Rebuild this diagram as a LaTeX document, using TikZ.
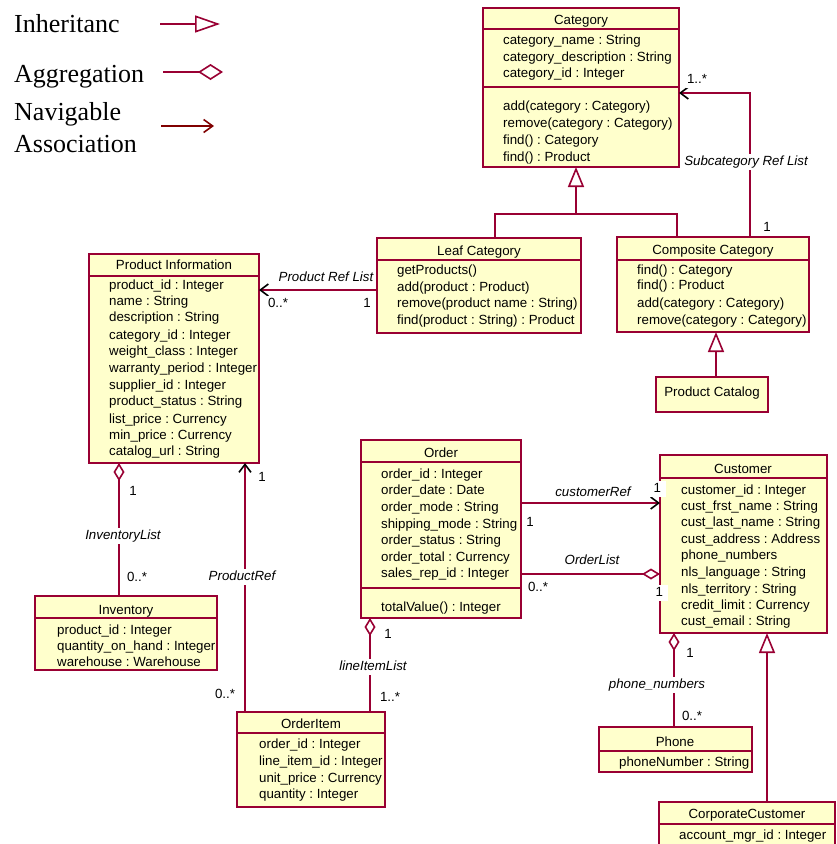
\documentclass[tikz,border=0pt]{standalone}
\usepackage{fontspec}
\setmainfont{Liberation Sans}
\newfontfamily\lgdfont{Liberation Serif}
\usetikzlibrary{arrows.meta}
\frenchspacing
\definecolor{umlred}{RGB}{153,0,51}
\definecolor{umlfill}{RGB}{255,255,204}
\definecolor{navred}{RGB}{128,0,0}
\newcounter{tln}
\newcommand\atl[3]{\stepcounter{tln}\edef\tlname{tl\arabic{tln}}\node[att] (\tlname) at (#1,#2) {#3};}
\tikzset{
  cls/.style={draw=umlred, fill=umlfill, line width=2pt, inner sep=0pt, outer sep=0pt, anchor=north west},
  sepline/.style={draw=umlred, line width=2pt},
  ttl/.style={font=\fontsize{13.3}{15}\selectfont, inner sep=0pt, text height=9.6pt, text depth=2.8pt, yshift=-0.8pt},
  att/.style={ttl, anchor=west},
  lbl/.style={font=\fontsize{13.3}{15}\selectfont, inner sep=1.5pt, fill=white, text height=9.6pt, text depth=2.8pt, yshift=-0.8pt},
  rl/.style={lbl, font=\fontsize{13.3}{15}\selectfont\itshape},
  conn/.style={draw=umlred, line width=1.6pt},
  navtip/.style={-{Straight Barb[length=8pt,width=12pt,color=black]}},
  aggtip/.style={{Diamond[open,length=18pt,width=11pt,color=umlred]}-},
  aggend/.style={-{Diamond[open,length=18pt,width=11pt,color=umlred]}},
  gentip/.style={-{Triangle[open,length=20pt,width=16pt,color=umlred]}},
  lgd/.style={font=\lgdfont\fontsize{26}{30}\selectfont, inner sep=0pt, anchor=base west}
}
\begin{document}
\begin{tikzpicture}[x=1pt,y=-1pt]
\useasboundingbox[fill=white] (0,0) rectangle (836,844);

% ---------- legend ----------
\node[lgd] (lgA) at (14,32) {Inheritanc};
\node[lgd] (lgB) at (14,82) {Aggregation};
\node[lgd] (lgC) at (14,120) {Navigable};
\node[lgd] (lgD) at (14,152) {Association};
\coordinate (la1) at (160,24);  \coordinate (la2) at (220,24);
\coordinate (lb1) at (163,72);  \coordinate (lb2) at (223,72);
\coordinate (lc1) at (161,126); \coordinate (lc2) at (214,126);
\draw[conn, -{Triangle[open,length=25pt,width=17pt,color=umlred]}] (la1) -- (la2);
\draw[conn, -{Diamond[open,length=25pt,width=16pt,color=umlred]}] (lb1) -- (lb2);
\draw[conn, draw=navred, -{Straight Barb[length=9pt,width=13pt,color=navred]}] (lc1) -- (lc2);

% ---------- class boxes ----------
\node[cls, minimum width=196pt, minimum height=159pt] (cat) at (483,8) {};
\node[cls, minimum width=204pt, minimum height=95pt] (leaf) at (377,238) {};
\node[cls, minimum width=192pt, minimum height=95pt] (comp) at (617,237) {};
\node[cls, minimum width=112pt, minimum height=35pt] (pcat) at (656,377) {};
\node[cls, minimum width=170pt, minimum height=209pt] (pinfo) at (89,254) {};
\node[cls, minimum width=160pt, minimum height=178pt] (order) at (361,440) {};
\node[cls, minimum width=167pt, minimum height=178pt] (cust) at (660,455) {};
\node[cls, minimum width=182pt, minimum height=74pt] (inv) at (35,596) {};
\node[cls, minimum width=148pt, minimum height=95pt] (oitem) at (237,712) {};
\node[cls, minimum width=153pt, minimum height=45pt] (phone) at (599,727) {};
\node[cls, minimum width=176pt, minimum height=70pt] (corp) at (659,802) {};

% separators
\draw[sepline] (cat.west |- 0,29) -- (cat.east |- 0,29);
\draw[sepline] (cat.west |- 0,87) -- (cat.east |- 0,87);
\draw[sepline] (leaf.west |- 0,260) -- (leaf.east |- 0,260);
\draw[sepline] (comp.west |- 0,260) -- (comp.east |- 0,260);
\draw[sepline] (pinfo.west |- 0,276) -- (pinfo.east |- 0,276);
\draw[sepline] (order.west |- 0,462) -- (order.east |- 0,462);
\draw[sepline] (order.west |- 0,588) -- (order.east |- 0,588);
\draw[sepline] (cust.west |- 0,478) -- (cust.east |- 0,478);
\draw[sepline] (inv.west |- 0,618) -- (inv.east |- 0,618);
\draw[sepline] (oitem.west |- 0,733) -- (oitem.east |- 0,733);
\draw[sepline] (phone.west |- 0,751) -- (phone.east |- 0,751);
\draw[sepline] (corp.west |- 0,824) -- (corp.east |- 0,824);

% ---------- texts ----------
\node[ttl] (catT) at (581,20) {Category};
\atl{503}{40}{category\_name : String}
\atl{503}{57}{category\_description : String}
\atl{503}{73}{category\_id : Integer}
\atl{503}{106}{add(category : Category)}
\atl{503}{123}{remove(category : Category)}
\atl{503}{140}{find() : Category}
\atl{503}{157}{find() : Product}

\node[ttl] (leafT) at (479,251) {Leaf Category};
\atl{397}{270}{getProducts()}
\atl{397}{287}{add(product : Product)}
\atl{397}{303}{remove(product name : String)}
\atl{397}{320}{find(product : String) : Product}

\node[ttl] (compT) at (713,250) {Composite Category};
\atl{637}{270}{find() : Category}
\atl{637}{285}{find() : Product}
\atl{637}{303}{add(category : Category)}
\atl{637}{320}{remove(category : Category)}

\node[ttl] (pcatT) at (712,392) {Product Catalog};

\node[ttl] (pinfoT) at (174,265) {Product Information};
\atl{109}{285}{product\_id : Integer}
\atl{109}{301}{name : String}
\atl{109}{317}{description : String}
\atl{109}{335}{category\_id : Integer}
\atl{109}{351}{weight\_class : Integer}
\atl{109}{368}{warranty\_period : Integer}
\atl{109}{385}{supplier\_id : Integer}
\atl{109}{401}{product\_status : String}
\atl{109}{419}{list\_price : Currency}
\atl{109}{435}{min\_price : Currency}
\atl{109}{451}{catalog\_url : String}

\node[ttl] (orderT) at (441,453) {Order};
\atl{381}{474}{order\_id : Integer}
\atl{381}{490}{order\_date : Date}
\atl{381}{507}{order\_mode : String}
\atl{381}{524}{shipping\_mode : String}
\atl{381}{540}{order\_status : String}
\atl{381}{557}{order\_total : Currency}
\atl{381}{573}{sales\_rep\_id : Integer}
\atl{381}{607}{totalValue() : Integer}

\node[ttl] (custT) at (743,469) {Customer};
\atl{681}{490}{customer\_id : Integer}
\atl{681}{506}{cust\_frst\_name : String}
\atl{681}{522}{cust\_last\_name : String}
\atl{681}{539}{cust\_address : Address}
\atl{681}{555}{phone\_numbers}
\atl{681}{572}{nls\_language : String}
\atl{681}{589}{nls\_territory : String}
\atl{681}{605}{credit\_limit : Currency}
\atl{681}{621}{cust\_email : String}

\node[ttl] (invT) at (126,610) {Inventory};
\atl{57}{630}{product\_id : Integer}
\atl{57}{646}{quantity\_on\_hand : Integer}
\atl{57}{662}{warehouse : Warehouse}

\node[ttl] (oitemT) at (311,724) {OrderItem};
\atl{259}{744}{order\_id : Integer}
\atl{259}{761}{line\_item\_id : Integer}
\atl{259}{778}{unit\_price : Currency}
\atl{259}{794}{quantity : Integer}

\node[ttl] (phoneT) at (675,742) {Phone};
\atl{619}{762}{phoneNumber : String}

\node[ttl] (corpT) at (747,814) {CorporateCustomer};
\atl{679}{835}{account\_mgr\_id : Integer}

% ---------- connectors ----------
\coordinate (gj) at (576,214);
\draw[conn] (leaf.north -| 495,0) |- (gj);
\draw[conn] (comp.north -| 677,0) |- (gj);
\draw[conn, gentip] (gj) -- (cat.south -| gj);

\draw[conn, aggtip, navtip] (comp.north -| 750,0) |- (cat.east |- 0,93);
\draw[conn, navtip] (leaf.west |- 0,290) -- (pinfo.east |- 0,290);
\draw[conn, gentip] (pcat.north -| 716,0) -- (comp.south -| 716,0);
\draw[conn, navtip] (order.east |- 0,503) -- (cust.west |- 0,503);
\draw[conn, aggend] (order.east |- 0,574) -- (cust.west |- 0,574);
\draw[conn, aggtip] (order.south -| 370,0) -- (oitem.north -| 370,0);
\draw[conn, aggtip] (pinfo.south -| 119,0) -- (inv.north -| 119,0);
\draw[conn, navtip] (oitem.north -| 245,0) -- (pinfo.south -| 245,0);
\draw[conn, aggtip] (cust.south -| 674,0) -- (phone.north -| 674,0);
\draw[conn, gentip] (corp.north -| 767,0) -- (cust.south -| 767,0);

% ---------- connector labels ----------
\node[lbl] (l1) at (697,79) {1..*};
\node[rl] (l2) at (746,161) {Subcategory Ref List};
\node[lbl] (l3) at (767,227) {1};
\node[rl] (l4) at (326,277) {Product Ref List};
\node[lbl] (l5) at (278,303) {0..*};
\node[lbl] (l6) at (367,303) {1};
\node[rl] (l7) at (593,492) {customerRef};
\node[lbl] (l8) at (530,522) {1};
\node[lbl, anchor=west, minimum width=18pt, align=left] (l9) at (648,488) {1};
\node[rl] (l10) at (592,560) {OrderList};
\node[lbl] (l11) at (538,587) {0..*};
\node[lbl, anchor=west, minimum width=18pt] (l12) at (650,592) {1};
\node[lbl] (l13) at (133,491) {1};
\node[rl] (l14) at (123,535) {InventoryList};
\node[lbl] (l15) at (137,577) {0..*};
\node[lbl] (l16) at (262,477) {1};
\node[rl] (l17) at (242,576) {ProductRef};
\node[lbl] (l18) at (225,694) {0..*};
\node[lbl] (l19) at (388,634) {1};
\node[rl] (l20) at (373,666) {lineItemList};
\node[lbl] (l21) at (390,697) {1..*};
\node[lbl] (l22) at (690,653) {1};
\node[rl] (l23) at (657,684) {phone\_numbers};
\node[lbl] (l24) at (692,716) {0..*};
\end{tikzpicture}
\end{document}
